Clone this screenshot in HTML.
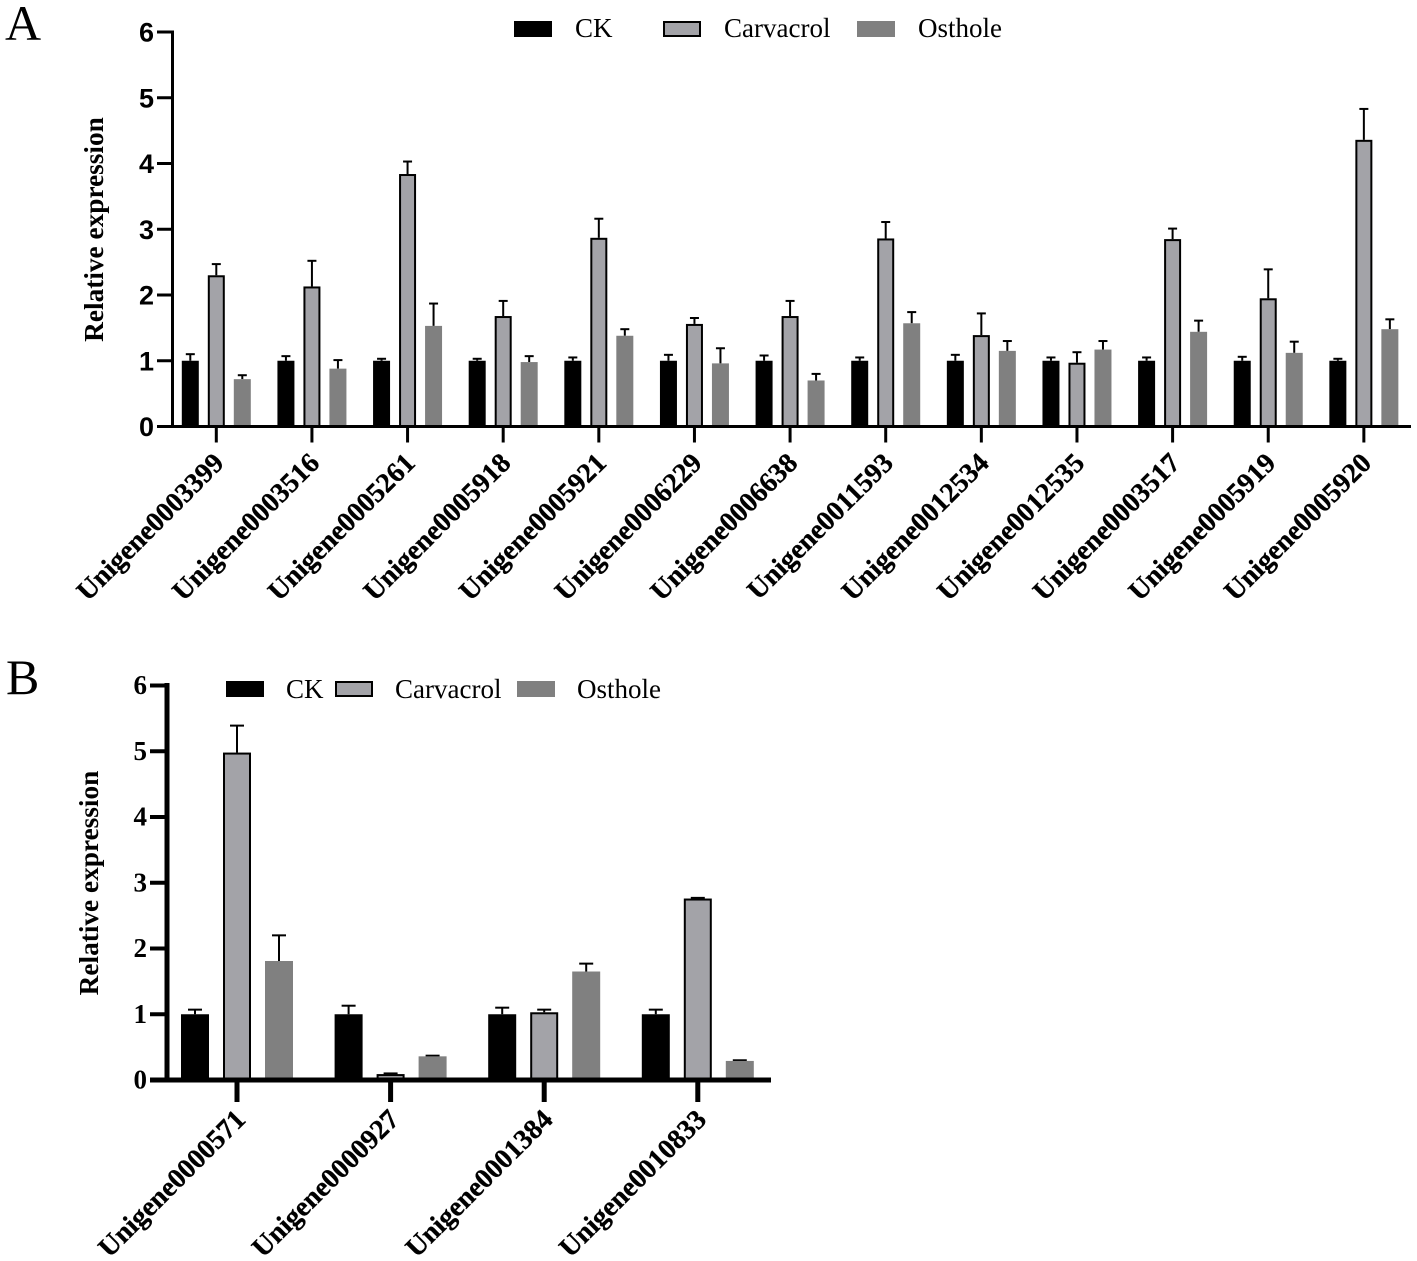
<!DOCTYPE html>
<html lang="en">
<head>
<meta charset="utf-8">
<title>Relative expression charts</title>
<style>
html,body{margin:0;padding:0;background:#fff;width:1417px;height:1261px;overflow:hidden}
svg{display:block}
text{fill:#000}
.serif{font-family:"Liberation Serif",serif}
.sans{font-family:"Liberation Sans",sans-serif}
</style>
</head>
<body>
<svg id="figure" width="1417" height="1261" viewBox="0 0 1417 1261" xmlns="http://www.w3.org/2000/svg"></svg>
<script>
const yTicks = [0, 1, 2, 3, 4, 5, 6];
const seriesNames = ['CK', 'Carvacrol', 'Osthole'];

const categoriesA = ['Unigene0003399','Unigene0003516','Unigene0005261','Unigene0005918','Unigene0005921','Unigene0006229','Unigene0006638','Unigene0011593','Unigene0012534','Unigene0012535','Unigene0003517','Unigene0005919','Unigene0005920'];
const ckA = [1,1,1,1,1,1,1,1,1,1,1,1,1];
const ckTopA = [1.10,1.07,1.03,1.03,1.05,1.09,1.08,1.05,1.09,1.05,1.05,1.06,1.03];
const carvacrolA = [2.30,2.13,3.84,1.68,2.87,1.56,1.68,2.86,1.39,0.97,2.85,1.95,4.36];
const carvacrolTopA = [2.47,2.52,4.03,1.91,3.16,1.65,1.91,3.11,1.72,1.13,3.01,2.39,4.83];
const ostholeA = [0.72,0.88,1.53,0.98,1.38,0.96,0.70,1.57,1.15,1.17,1.44,1.12,1.48];
const ostholeTopA = [0.78,1.01,1.87,1.07,1.48,1.19,0.80,1.74,1.30,1.30,1.61,1.29,1.63];

const categoriesB = ['Unigene0000571','Unigene0000927','Unigene0001384','Unigene0010833'];
const ckB = [1,1,1,1];
const ckTopB = [1.07,1.13,1.10,1.07];
const carvacrolB = [4.98,0.09,1.03,2.76];
const carvacrolTopB = [5.39,0.10,1.07,2.77];
const ostholeB = [1.81,0.36,1.65,0.29];
const ostholeTopB = [2.20,0.37,1.77,0.30];

const NS = 'http://www.w3.org/2000/svg';
const root = document.getElementById('figure');
const fills = ['#000000', '#a3a3a8', '#808080'];

function mk(tag, attrs, parent, txt) {
  const el = document.createElementNS(NS, tag);
  for (const k in attrs) el.setAttribute(k, attrs[k]);
  if (txt !== undefined) el.textContent = txt;
  (parent || root).appendChild(el);
  return el;
}

function drawPanel(p, cats, vals, tops) {
  const g = mk('g', {}, root);
  
  
  const yPos = v => p.y0 - v * (p.y0 - p.y6) / 6;
  const xPos = i => p.x0 + i * p.step;

  const letter = mk('text', {x: p.letterX, y: p.letterY, 'class': 'serif', 'font-size': 50}, g, p.id.toUpperCase());
  
  

  cats.forEach((c, i) => {
    vals.forEach((series, s) => {
      const cx = xPos(i) + (s - 1) * p.offset;
      const top = yPos(series[i]);
      const eTop = yPos(tops[s][i]);
      const errStem = mk('line', {x1: cx, x2: cx, y1: top, y2: eTop, stroke: '#000', 'stroke-width': 2}, g);
      
      
      const errCap = mk('line', {x1: cx - p.cap, x2: cx + p.cap, y1: eTop, y2: eTop, stroke: '#000', 'stroke-width': 2}, g);
      
      
      const outlined = s === 1;
      const ins = outlined ? 1 : 0;
      const bar = mk('rect', {
        x: cx - p.barW / 2 + ins, y: top + ins, width: p.barW - 2 * ins, height: Math.max(p.y0 - top - ins, 0),
        fill: fills[s], stroke: outlined ? '#000' : 'none', 'stroke-width': outlined ? 2 : 0
      }, g);
      
      
    });
    const tick = mk('line', {x1: xPos(i), x2: xPos(i), y1: p.y0, y2: p.y0 + p.xTickLen, stroke: '#000', 'stroke-width': p.xTickW}, g);
    
    
    const lx = xPos(i) + p.labelDx;
    const ly = p.y0 + p.labelDy;
    const lab = mk('text', {x: lx, y: ly, 'class': 'serif', 'font-weight': 'bold', 'font-size': p.catSize, stroke: '#000', 'stroke-width': 0.35, 'text-anchor': 'end', transform: 'rotate(-45 ' + lx + ' ' + ly + ')'}, g, c);
    
    
  });

  const yAxis = mk('line', {x1: p.axisX, x2: p.axisX, y1: p.y6 - p.axisW / 2, y2: p.y0 + p.baseW / 2, stroke: '#000', 'stroke-width': p.axisW}, g);
  
  
  const xAxis = mk('line', {x1: p.axisLeft, x2: p.axisRight, y1: p.y0, y2: p.y0, stroke: '#000', 'stroke-width': p.baseW}, g);
  
  

  yTicks.forEach(t => {
    const tk = mk('line', {x1: p.axisLeft, x2: p.axisX, y1: yPos(t), y2: yPos(t), stroke: '#000', 'stroke-width': p.yTickW}, g);
    
    
    const tl = mk('text', {x: p.axisLeft - 3, y: yPos(t) + p.yLabelDy, 'class': p.yClass, 'font-weight': 'bold', 'font-size': p.ySize, 'text-anchor': 'end'}, g, String(t));
    
    
  });

  const title = mk('text', {x: p.titleX, y: p.titleY, 'class': 'serif', 'font-weight': 'bold', 'font-size': 27.3, 'text-anchor': 'middle', transform: 'rotate(-90 ' + p.titleX + ' ' + p.titleY + ')'}, g, 'Relative expression');
  
  

  seriesNames.forEach((name, s) => {
    const outlined = s === 1;
    const ins = outlined ? 1 : 0;
    const swatch = mk('rect', {
      x: p.legendRectX[s] + ins, y: p.legendY + ins, width: 38 - 2 * ins, height: 16 - 2 * ins,
      fill: fills[s], stroke: outlined ? '#000' : 'none', 'stroke-width': outlined ? 2 : 0
    }, g);
    
    
    const lt = mk('text', {x: p.legendTextX[s], y: p.legendY + p.legendTextDy, 'class': 'serif', 'font-size': 27}, g, name);
    
    
  });
}

drawPanel({
  id: 'a', letterX: 5, letterY: 40,
  y0: 426.5, y6: 32, x0: 216.3, step: 95.63, offset: 26, barW: 17, cap: 4.5,
  axisX: 172.5, axisW: 3, baseW: 3, axisLeft: 157, axisRight: 1411, yTickW: 3,
  xTickLen: 16, xTickW: 3, labelDx: 9, labelDy: 38, catSize: 27.8,
  ySize: 27, yClass: 'sans', yLabelDy: 9.5, titleX: 103, titleY: 229.5,
  legendY: 21, legendTextDy: 16, legendRectX: [514, 663, 857], legendTextX: [575, 724, 918]
}, categoriesA, [ckA, carvacrolA, ostholeA], [ckTopA, carvacrolTopA, ostholeTopA]);

drawPanel({
  id: 'b', letterX: 6, letterY: 694,
  y0: 1080, y6: 685.5, x0: 237, step: 153.6, offset: 42, barW: 28, cap: 7,
  axisX: 167, axisW: 5, baseW: 5, axisLeft: 150, axisRight: 771, yTickW: 4,
  xTickLen: 22, xTickW: 5, labelDx: 10, labelDy: 41, catSize: 27.8,
  ySize: 27, yClass: 'serif', yLabelDy: 8.5, titleX: 98, titleY: 883,
  legendY: 681, legendTextDy: 17, legendRectX: [226, 335, 517], legendTextX: [286, 395, 577]
}, categoriesB, [ckB, carvacrolB, ostholeB], [ckTopB, carvacrolTopB, ostholeTopB]);
</script>
</body>
</html>
